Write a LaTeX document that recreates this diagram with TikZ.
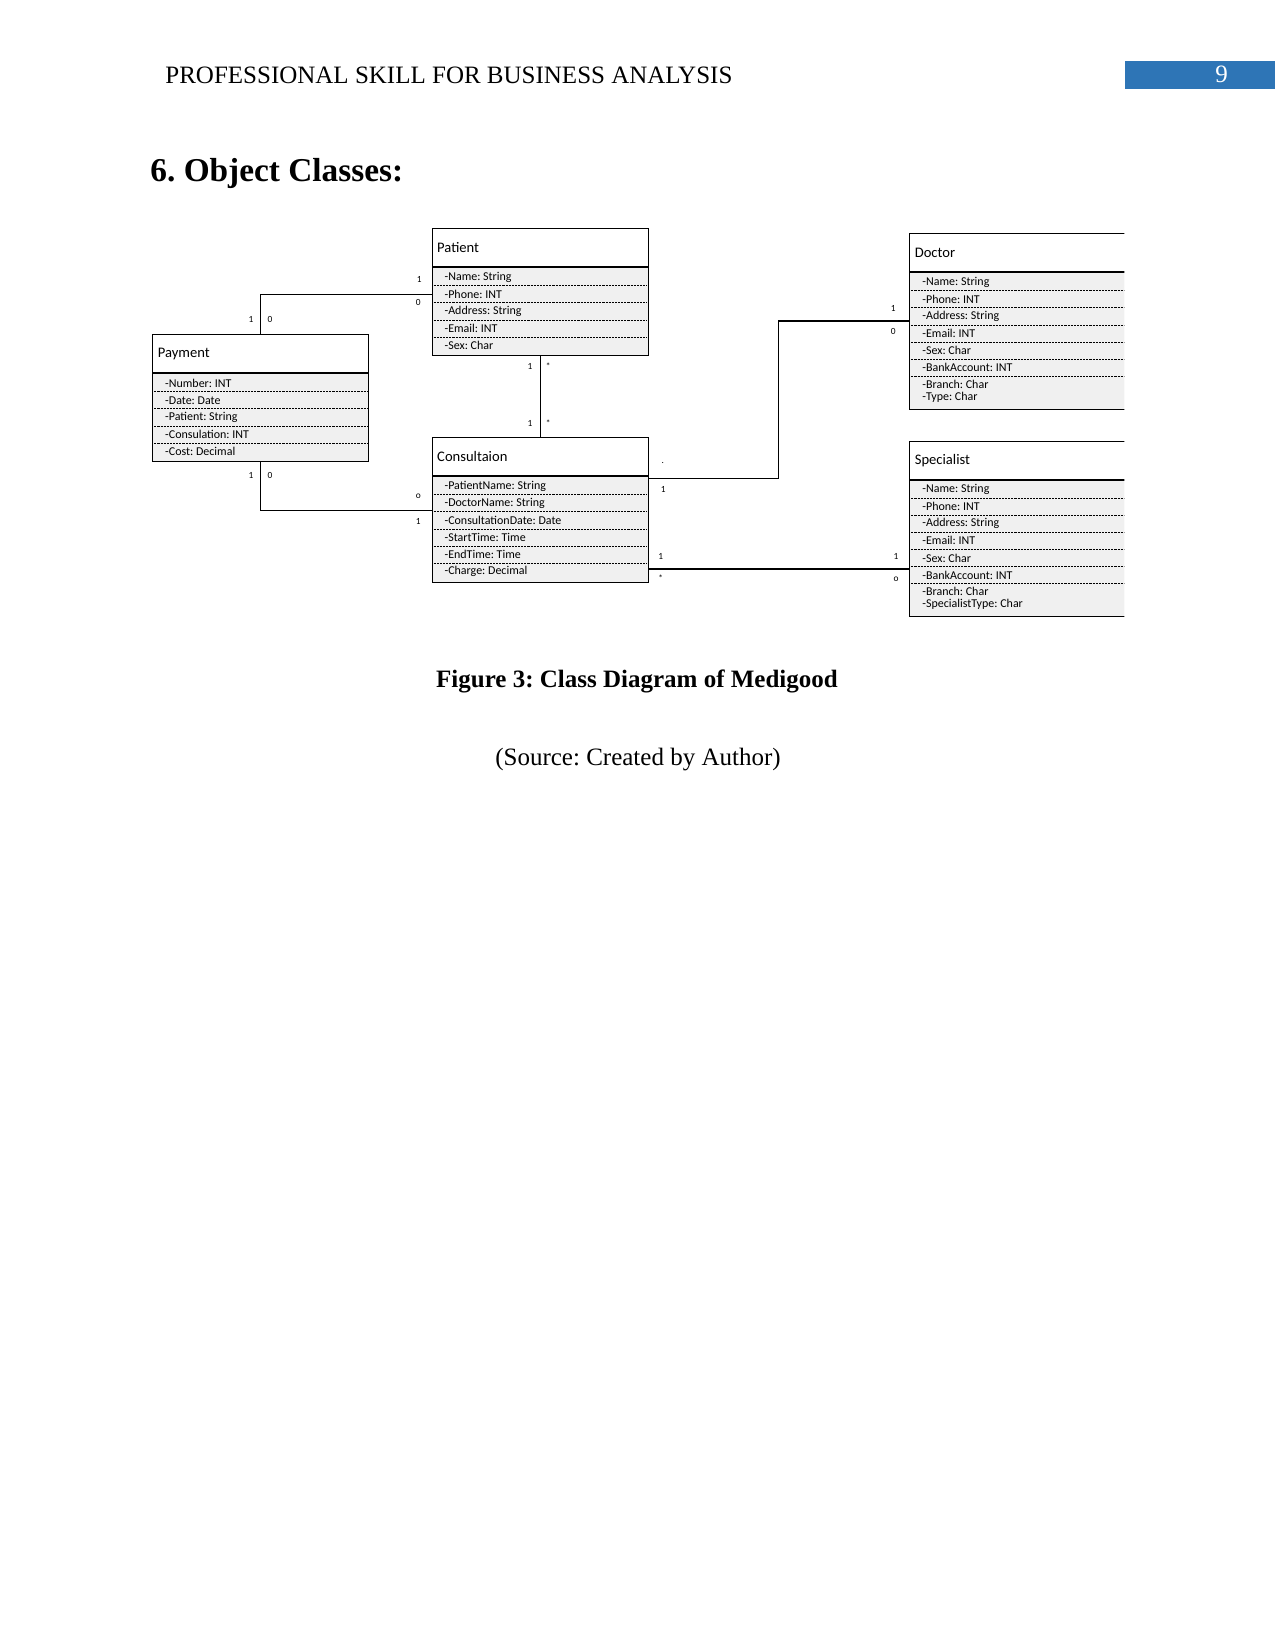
\documentclass[tikz,border=0pt]{standalone}
\usepackage{fontspec}
\setmainfont{Liberation Serif}
\newfontfamily\cfont{Carlito}
\usetikzlibrary{positioning}
\definecolor{hdrblue}{HTML}{2E75B6}
\frenchspacing
\begin{document}
\begin{tikzpicture}[x=0.48pt,y=-0.48pt,
  clshead/.style={draw,fill=white,line width=0.5pt,minimum width=103.7pt,minimum height=18.2pt,text width=98.9pt,inner xsep=2.4pt,inner ysep=0pt,align=left,anchor=north west,font=\cfont\fontsize{7}{8}\selectfont},
  clsbody/.style={draw,fill=black!6,line width=0.5pt,minimum width=103.7pt,inner sep=0pt,below=0pt of #1},
  attr/.style={anchor=west,inner sep=0pt,font=\cfont\fontsize{5.75}{6.5}\selectfont},
  sep/.style={line width=0.3pt,dash pattern=on 1pt off 0.5pt},
  mult/.style={inner sep=0pt,font=\cfont\fontsize{4.5}{5}\selectfont},
  assoc/.style={line width=0.55pt}]
  \useasboundingbox (0,0) rectangle (1275,1650);
  % page header and titles
  \node[anchor=base west,inner sep=0pt,font=\fontsize{12}{14}\selectfont] (runhead) at (165,84) {PROFESSIONAL SKILL FOR BUSINESS ANALYSIS};
  \node[fill=hdrblue,anchor=north west,minimum width=72pt,minimum height=13.5pt,inner sep=0pt] (pgbox) at (1125,60.5) {};
  \node[anchor=base,text=white,inner sep=0pt,font=\fontsize{12}{14}\selectfont] (pgno) at (1221.7,83) {9};
  \node[anchor=base west,inner sep=0pt,font=\bfseries\fontsize{16}{19}\selectfont] (sechead) at (150,182) {6. Object Classes:};
  % Patient
  \node[clshead] (pat) at (431.7,228.3) {Patient};
  \node[clsbody=pat,minimum height=42.2pt] (patb) {};
  \foreach \a [count=\i] in {-Name: String,-Phone: INT,-Address: String,-Email: INT,-Sex: Char}
    \node[attr] (pat-\i) at ([shift={(12.5,{1.3+17.1*(\i-0.5)})}]patb.north west) {\a};
  \foreach \i in {1,...,4}
    \draw[sep] ([shift={(2,{1.3+17.1*\i})}]patb.north west) -- ([shift={(-2,{1.3+17.1*\i})}]patb.north east);
  % Payment
  \node[clshead] (pay) at (152.3,334.3) {Payment};
  \node[clsbody=pay,minimum height=42.1pt] (payb) {};
  \foreach \a [count=\i] in {-Number: INT,-Date: Date,-Patient: String,-Consulation: INT,-Cost: Decimal}
    \node[attr] (pay-\i) at ([shift={(12.5,{1.3+17.1*(\i-0.5)})}]payb.north west) {\a};
  \foreach \i in {1,...,4}
    \draw[sep] ([shift={(2,{1.3+17.1*\i})}]payb.north west) -- ([shift={(-2,{1.3+17.1*\i})}]payb.north east);
  % Consultation
  \node[clshead] (con) at (431.7,437.3) {Consultaion};
  \node[clsbody=con,minimum height=50.7pt] (conb) {};
  \foreach \a [count=\i] in {-PatientName: String,-DoctorName: String,-ConsultationDate: Date,-StartTime: Time,-EndTime: Time,-Charge: Decimal}
    \node[attr] (con-\i) at ([shift={(12.5,{1.3+17.1*(\i-0.5)})}]conb.north west) {\a};
  \foreach \i in {1,...,5}
    \draw[sep] ([shift={(2,{1.3+17.1*\i})}]conb.north west) -- ([shift={(-2,{1.3+17.1*\i})}]conb.north east);
  % Doctor and Specialist, cut at the right margin
  \begin{scope}
    \clip (0,0) rectangle (1124.3,1650);
    \node[clshead,minimum width=105.6pt,text width=100.8pt] (doc) at (909.3,233.3) {Doctor};
    \node[clsbody=doc,minimum width=105.6pt,minimum height=65.8pt] (docb) {};
    \foreach \a [count=\i] in {-Name: String,-Phone: INT,-Address: String,-Email: INT,-Sex: Char,-BankAccount: INT}
      \node[attr] (doc-\i) at ([shift={(12.7,{1.3+17.1*(\i-0.5)})}]docb.north west) {\a};
    \node[attr] (doc-7) at ([shift={(12.7,112)}]docb.north west) {-Branch: Char};
    \node[attr] (doc-8) at ([shift={(12.7,125.4)}]docb.north west) {-Type: Char};
    \foreach \i in {1,...,6}
      \draw[sep] ([shift={(2,{1.3+17.1*\i})}]docb.north west) -- ([shift={(-6,{1.3+17.1*\i})}]docb.north east);
    \node[clshead,minimum width=105.6pt,text width=100.8pt] (spc) at (909.3,440.7) {Specialist};
    \node[clsbody=spc,minimum width=105.6pt,minimum height=65.3pt] (spcb) {};
    \foreach \a [count=\i] in {-Name: String,-Phone: INT,-Address: String,-Email: INT,-Sex: Char,-BankAccount: INT}
      \node[attr] (spc-\i) at ([shift={(12.7,{1.3+17.1*(\i-0.5)})}]spcb.north west) {\a};
    \node[attr] (spc-7) at ([shift={(12.7,111.7)}]spcb.north west) {-Branch: Char};
    \node[attr] (spc-8) at ([shift={(12.7,125)}]spcb.north west) {-SpecialistType: Char};
    \foreach \i in {1,...,6}
      \draw[sep] ([shift={(2,{1.3+17.1*\i})}]spcb.north west) -- ([shift={(-6,{1.3+17.1*\i})}]spcb.north east);
  \end{scope}
  % associations
  \draw[assoc] (patb.west |- pat-2) -| (pay.north);
  \draw[assoc] (patb.south) -- (con.north);
  \draw[assoc] (payb.south) |- ([shift={(0,34)}]conb.north west);
  \draw[assoc] ([shift={(0,2)}]conb.north east) -- ++(130,0) |- ([shift={(0,48.7)}]docb.north west);
  \coordinate (cs) at ([shift={(0,92.7)}]conb.north east);
  \draw[assoc] (cs) -- (cs -| spcb.west);
  \foreach \nm/\x/\y/\t in {m1/419.3/279/1, m2/418.3/302.3/0, m3/251/319.3/1, m4/270/319.3/0, m5/530/366/1, m6/548.3/366/*, m7/530/423.3/1, m8/548.3/423.3/*, m9/251/475.7/1, m10/270/475.7/0, m11/418.3/496/o, m12/418.3/521/1, m13/662.7/462.7/., m14/663.3/489/1, m15/893.3/308.3/1, m16/893.3/331.7/0, m17/660.7/556.7/1, m18/660.7/578.3/*, m19/896/556.7/1, m20/896/579.3/o}
    \node[mult] (\nm) at (\x,\y) {\t};
  % caption
  \node[anchor=base,inner sep=0pt,font=\bfseries\fontsize{12}{14}\selectfont] (figcap) at (637,687) {Figure 3: Class Diagram of Medigood};
  \node[anchor=base,inner sep=0pt,font=\fontsize{12}{14}\selectfont] (figsrc) at (638,765) {(Source: Created by Author)};
\end{tikzpicture}
\end{document}
